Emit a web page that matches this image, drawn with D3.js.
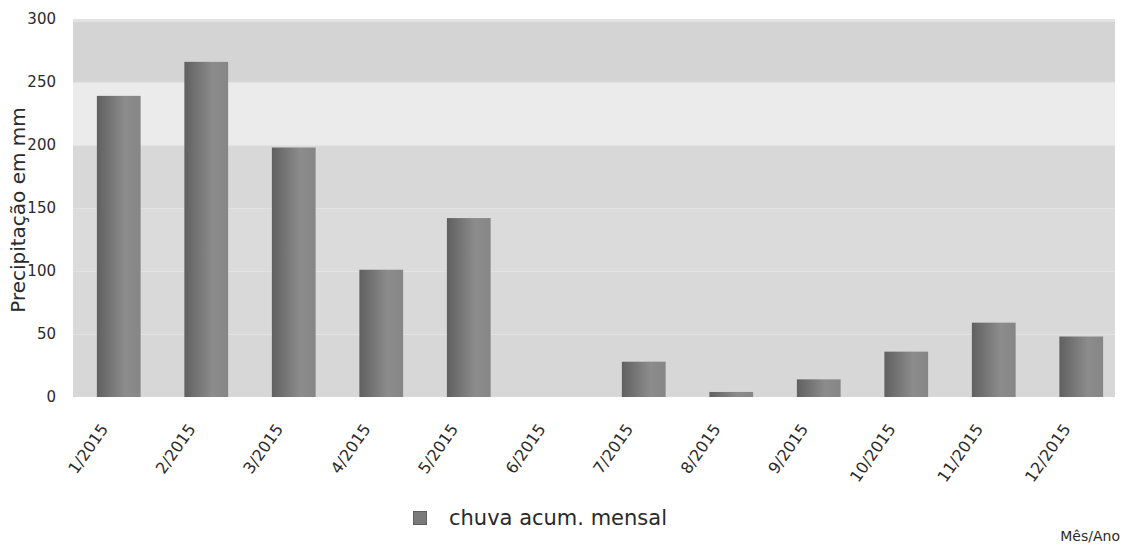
<!DOCTYPE html>
<html>
<head>
<meta charset="utf-8">
<script src="https://cdn.jsdelivr.net/npm/d3@7"></script>
<style>
  body { margin: 0; background: #fff; }
  text { font-family: "DejaVu Sans", sans-serif; fill: #2a2a2a; }
</style>
</head>
<body>
<svg id="chart" width="1123" height="547"></svg>
<script>
const months = ["1/2015", "2/2015", "3/2015", "4/2015", "5/2015", "6/2015",
                "7/2015", "8/2015", "9/2015", "10/2015", "11/2015", "12/2015"];
const rainfall = [239, 266, 198, 101, 142, 0, 28, 4, 14, 36, 59, 48];
const yTicks = [0, 50, 100, 150, 200, 250, 300];
const bandColors = ["#d7d7d7", "#d9d9d9", "#dbdbdb", "#d8d8d8", "#ebebeb", "#d4d4d4"];

const svg = d3.select("#chart");
const plotLeft = 73, plotRight = 1115;

const xScale = d3.scaleBand()
                 .domain(months)
                 .range([75, 1125])
                 .paddingInner(0.5)
                 .paddingOuter(0.25);

const yScale = d3.scaleLinear()
                 .domain([0, 300])
                 .range([397, 19]);

// bar gradient
const grad = svg.append("defs")
                .append("linearGradient")
                .attr("id", "barGrad")
                .attr("x1", "0%").attr("x2", "100%")
                .attr("y1", "0%").attr("y2", "0%");
grad.append("stop").attr("offset", "0%").attr("stop-color", "#606060");
grad.append("stop").attr("offset", "65%").attr("stop-color", "#8c8c8c");
grad.append("stop").attr("offset", "100%").attr("stop-color", "#868686");

// background bands
const bands = d3.pairs(yTicks);
svg.append("g")
   .selectAll("rect")
   .data(bands)
   .enter()
   .append("rect")
     .attr("x", plotLeft)
     .attr("width", plotRight - plotLeft)
     .attr("y", d => yScale(d[1]))
     .attr("height", d => yScale(d[0]) - yScale(d[1]))
     .attr("fill", (d, i) => bandColors[i]);

// light strip along the top edge
svg.append("rect")
   .attr("x", plotLeft)
   .attr("y", yScale(300))
   .attr("width", plotRight - plotLeft)
   .attr("height", 3)
   .attr("fill", "#e2e2e2");

// faint grid lines
svg.append("g")
   .selectAll("line")
   .data(yTicks.slice(1, -1))
   .enter()
   .append("line")
     .attr("x1", plotLeft)
     .attr("x2", plotRight)
     .attr("y1", d => yScale(d) + 0.5)
     .attr("y2", d => yScale(d) + 0.5)
     .attr("stroke", "#e3e3e3")
     .attr("stroke-width", 1);

// bars
svg.append("g")
   .selectAll("rect")
   .data(rainfall)
   .enter()
   .append("rect")
     .attr("x", (d, i) => xScale(months[i]))
     .attr("y", d => yScale(d))
     .attr("width", xScale.bandwidth())
     .attr("height", d => yScale(0) - yScale(d))
     .attr("fill", "url(#barGrad)");

// y axis
const yAxis = d3.axisLeft(yScale)
                .tickValues(yTicks)
                .tickSize(0)
                .tickPadding(0);
const yG = svg.append("g")
              .attr("transform", "translate(56, 0)")
              .call(yAxis);
yG.select(".domain").remove();
yG.selectAll("text")
  .attr("font-size", 15)
  .attr("font-family", "DejaVu Sans, sans-serif")
  .attr("fill", "#2a2a2a");

// x axis labels
svg.append("g")
   .selectAll("text")
   .data(months)
   .enter()
   .append("text")
     .attr("transform", d => `translate(${xScale(d) + xScale.bandwidth() / 2 - 10}, 429) rotate(-55)`)
     .attr("text-anchor", "end")
     .attr("font-size", 16)
     .text(d => d);

// y title
svg.append("text")
   .attr("transform", "translate(25, 210) rotate(-90)")
   .attr("text-anchor", "middle")
   .attr("font-size", 20)
   .text("Precipitação em mm");

// legend
svg.append("rect")
   .attr("x", 413.5).attr("y", 511.5)
   .attr("width", 13).attr("height", 13)
   .attr("fill", "#7a7a7a")
   .attr("stroke", "#5e5e5e");
svg.append("text")
   .attr("x", 449)
   .attr("y", 525)
   .attr("font-size", 21)
   .text("chuva acum. mensal");

// x title
svg.append("text")
   .attr("x", 1120)
   .attr("y", 541)
   .attr("text-anchor", "end")
   .attr("font-size", 14)
   .text("Mês/Ano");
</script>
</body>
</html>
